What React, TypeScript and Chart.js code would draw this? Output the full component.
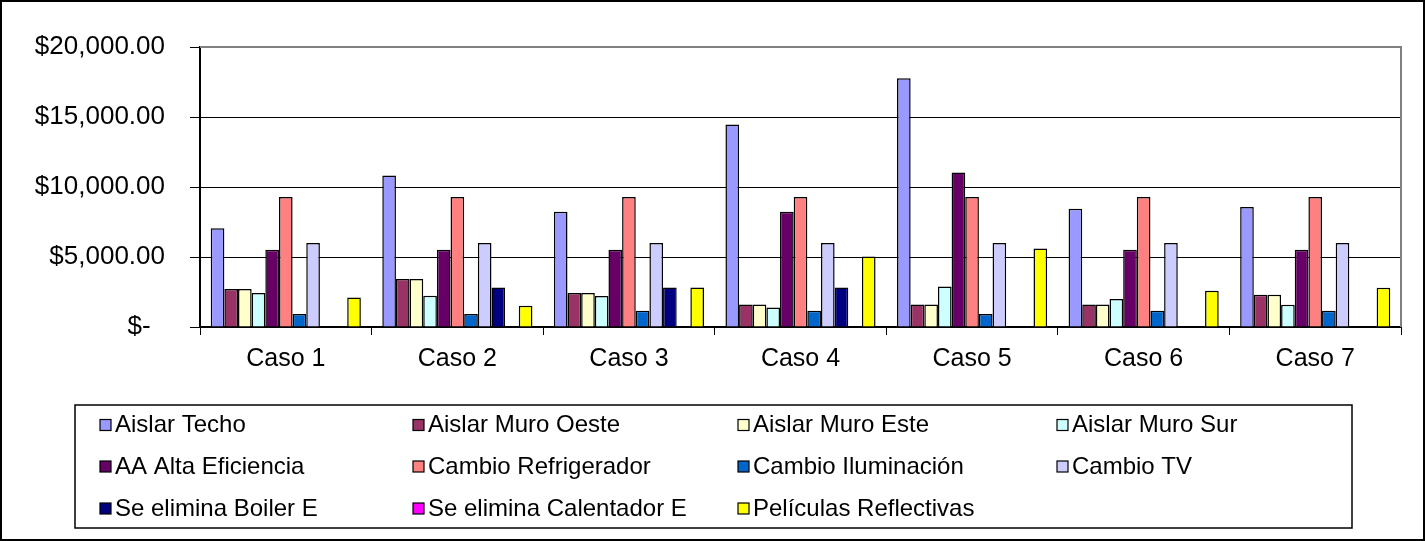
import React, { useEffect, useRef } from "react";
import { Chart, registerables } from "chart.js";

Chart.register(...registerables);

const categories = ["Caso 1", "Caso 2", "Caso 3", "Caso 4", "Caso 5", "Caso 6", "Caso 7"];

const aislarTecho = [7050, 10830, 8240, 14470, 17760, 8450, 8570];
const aislarMuroOeste = [2710, 3430, 2430, 1610, 1610, 1610, 2310];
const aislarMuroEste = [2710, 3430, 2430, 1610, 1610, 1610, 2310];
const aislarMuroSur = [2430, 2240, 2210, 1400, 2900, 2000, 1590];
const aaAltaEficiencia = [5520, 5520, 5520, 8240, 11040, 5520, 5520];
const cambioRefrigerador = [9290, 9290, 9290, 9290, 9290, 9290, 9290];
const cambioIluminacion = [930, 930, 1160, 1160, 930, 1160, 1160];
const cambioTV = [6000, 6000, 6000, 6000, 6000, 6000, 6000];
const eliminaBoiler = [0, 2830, 2830, 2830, 0, 0, 0];
const eliminaCalentador = [0, 0, 0, 0, 0, 0, 0];
const peliculasReflectivas = [2110, 1520, 2830, 5040, 5610, 2590, 2810];

const seriesLabels = [
  "Aislar Techo",
  "Aislar Muro Oeste",
  "Aislar Muro Este",
  "Aislar Muro Sur",
  "AA Alta Eficiencia",
  "Cambio Refrigerador",
  "Cambio Iluminación",
  "Cambio TV",
  "Se elimina Boiler E",
  "Se elimina Calentador E",
  "Películas Reflectivas",
];
const seriesValues = [
  aislarTecho,
  aislarMuroOeste,
  aislarMuroEste,
  aislarMuroSur,
  aaAltaEficiencia,
  cambioRefrigerador,
  cambioIluminacion,
  cambioTV,
  eliminaBoiler,
  eliminaCalentador,
  peliculasReflectivas,
];
const seriesColors = [
  "#9999FF",
  "#993366",
  "#FFFFCC",
  "#CCFFFF",
  "#660066",
  "#FF8080",
  "#0066CC",
  "#CCCCFF",
  "#000080",
  "#FF00FF",
  "#FFFF00",
];

const yTicks = [0, 5000, 10000, 15000, 20000];

const FONT = "'Liberation Sans', Arial, sans-serif";

const framePlugin = {
  id: "frame",
  afterDraw(chart: any) {
    const ctx = chart.ctx;
    const a = chart.chartArea;
    ctx.save();
    ctx.strokeStyle = "#808080";
    ctx.lineWidth = 2;
    ctx.beginPath();
    ctx.moveTo(a.left, a.top);
    ctx.lineTo(a.right, a.top);
    ctx.lineTo(a.right, a.bottom);
    ctx.stroke();

    ctx.strokeStyle = "#000";
    ctx.lineWidth = 2;
    ctx.strokeRect(1, 1, chart.width - 2, chart.height - 2);

    const lx = 75, ly = 405, lw = 1277, lh = 123;
    ctx.lineWidth = 1.5;
    ctx.strokeStyle = "#000";
    ctx.strokeRect(lx, ly, lw, lh);
    const colX = [100, 413, 738, 1057];
    const rowY = [424.5, 466, 508];
    ctx.font = "24px " + FONT;
    ctx.textBaseline = "middle";
    ctx.textAlign = "left";
    chart.data.datasets.forEach((ds: any, i: number) => {
      const c = i % 4;
      const r = Math.floor(i / 4);
      const x = colX[c];
      const y = rowY[r];
      ctx.fillStyle = ds.backgroundColor;
      ctx.fillRect(x, y - 5, 11, 11);
      ctx.lineWidth = 1.2;
      ctx.strokeStyle = "#000";
      ctx.strokeRect(x, y - 5, 11, 11);
      ctx.fillStyle = "#000";
      ctx.fillText(ds.label, x + 15, y + 1);
    });
    ctx.restore();
  },
};

export default function App() {
  const ref = useRef<HTMLCanvasElement | null>(null);

  useEffect(() => {
    document.body.style.margin = "0";
    const canvas = ref.current;
    if (!canvas) return;
    const chart = new Chart(canvas, {
      type: "bar",
      data: {
        labels: categories,
        datasets: seriesLabels.map((label, i) => ({
          label,
          data: seriesValues[i],
          backgroundColor: seriesColors[i],
          borderColor: "#000",
          borderWidth: 1.5,
          categoryPercentage: 0.875,
          barPercentage: 1.0,
        })),
      },
      options: {
        responsive: false,
        animation: false,
        devicePixelRatio: 1,
        layout: { padding: { left: 0, right: 24, top: 47, bottom: 154 } },
        plugins: {
          legend: { display: false },
          tooltip: { enabled: false },
        },
        scales: {
          x: {
            afterFit: (scale: any) => {
              scale.height = 60;
            },
            grid: {
              display: true,
              drawOnChartArea: false,
              drawTicks: true,
              tickLength: 8,
              color: "#000",
              offset: true,
            },
            border: { display: true, color: "#000", width: 2 },
            ticks: {
              color: "#000",
              padding: 9,
              font: { family: FONT, size: 25 },
              maxRotation: 0,
            },
          },
          y: {
            min: 0,
            max: 20000,
            afterFit: (scale: any) => {
              scale.width = 200;
            },
            afterBuildTicks: (scale: any) => {
              scale.ticks = yTicks.map((v) => ({ value: v }));
            },
            grid: {
              color: "#000",
              lineWidth: 1,
              tickLength: 10,
              tickColor: "#000",
            },
            border: { display: true, color: "#000", width: 2 },
            ticks: {
              color: "#000",
              padding: 25,
              font: { family: FONT, size: 26 },
              callback: (v: any) =>
                Number(v) === 0
                  ? "$-  "
                  : "$" +
                    Number(v).toLocaleString("en-US", {
                      minimumFractionDigits: 2,
                      maximumFractionDigits: 2,
                    }),
            },
          },
        },
      },
      plugins: [framePlugin],
    });
    return () => chart.destroy();
  }, []);

  return (
    <div style={{ width: 1425, height: 541, background: "#fff" }}>
      <canvas ref={ref} width={1425} height={541} style={{ display: "block", width: 1425, height: 541 }} />
    </div>
  );
}
